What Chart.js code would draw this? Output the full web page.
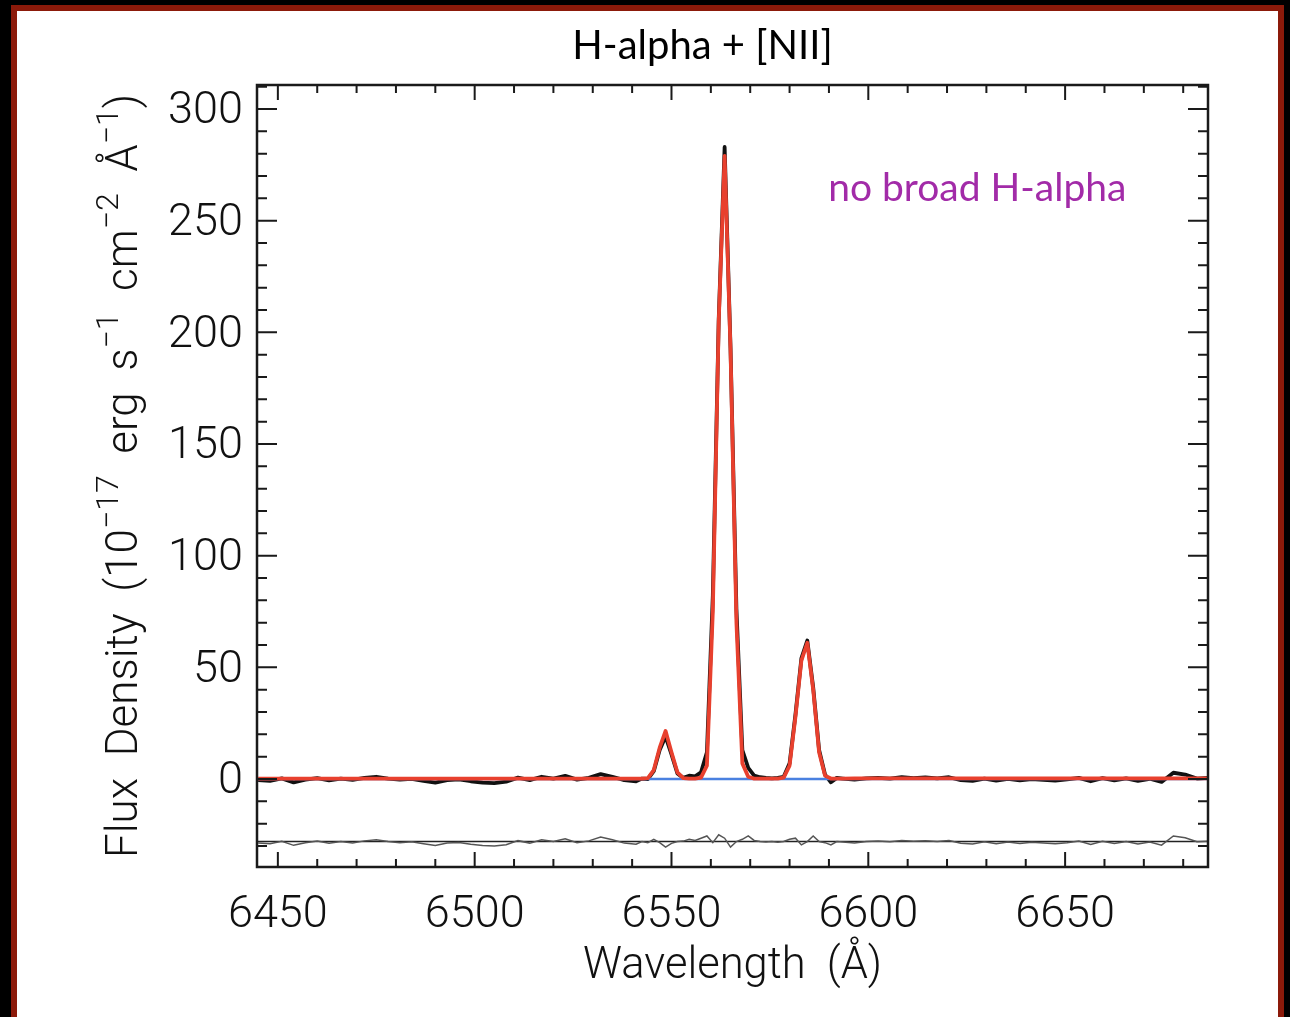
<!DOCTYPE html>
<html><head><meta charset="utf-8">
<script src="https://cdn.jsdelivr.net/npm/chart.js@4.4.1/dist/chart.umd.min.js"></script>
<style>
html,body{margin:0;padding:0;background:#000;width:1290px;height:1017px;overflow:hidden;}
#frame{position:absolute;left:11px;top:5px;width:1261px;height:1100px;background:#fff;border:6px solid #8c1a0a;}
#c{position:absolute;left:0;top:0;}
</style></head><body>
<div id="frame"></div>
<canvas id="c" width="1290" height="1017"></canvas>
<script>
// Wavelength grid (Angstrom)
const wavelength = [
 6445,6448,6451,6454,6457,6460,6463,6466,6469,6472,6475,6478,6481,6484,6487,6490,6493,6496,6499,6502,6505,6508,6511,6514,6517,6520,6523,6526,6529,6532,6535,6538,6541,
 6542.5,6544,6545.5,6547,6548.5,6550,6551.5,6553,6554.5,6556,6557.5,6559,6560.5,6562,6563.5,6565,6566.5,6568,6569.5,6571,6572.5,6574,6575.5,6577,6578.5,6580,6581.5,6583,6584.5,6586,6587.5,6589,6590.5,6592,6593.5,
 6596.5,6599.5,6602.5,6605.5,6608.5,6611.5,6614.5,6617.5,6620.5,6623.5,6626.5,6629.5,6632.5,6635.5,6638.5,6641.5,6644.5,6647.5,6650.5,6653.5,6656.5,6659.5,6662.5,6665.5,6668.5,6671.5,6674.5,6677.5,6680.5,6683.5,6686.5
];
// Observed flux density (black)
const fluxData = [
 -0.5,-0.8,0.3,-1.5,-0.3,0.4,-0.6,0.2,-0.4,0.5,1.0,0.2,-0.3,0.1,-0.8,-1.6,-0.5,-0.2,-1.0,-1.6,-1.8,-1.2,0.6,-0.5,1.0,0.2,1.4,-0.3,0.5,2.2,1.0,-0.5,-1.0,
 0.2,0.0,3.5,13,19,11,2.5,0.5,1.5,1.2,3,12,82,206,283,193,76,13,5,1.5,0.8,0.5,0.3,0.5,1,7,29,54,62,41,13,2,-1.5,0.5,0.2,
 -0.3,0.3,0.5,0.2,0.8,0.4,0.7,0.3,0.8,-0.5,-0.8,0.2,-0.7,0.1,-0.6,0.0,-0.4,-0.7,-0.2,0.5,-1.0,0.4,-0.6,0.3,-0.8,0.1,-1.3,2.8,2.0,0.2,0.5
];
// Model fit (red)
const fluxModel = [
 0.2,0.2,0.2,0.2,0.2,0.2,0.2,0.2,0.2,0.2,0.2,0.2,0.2,0.2,0.2,0.2,0.2,0.2,0.2,0.2,0.2,0.2,0.2,0.2,0.2,0.2,0.2,0.2,0.2,0.2,0.2,0.2,0.2,
 0.2,0.4,4,14,21.5,12,3,0.4,0.2,0.2,0.6,6,75,205,279,192,70,7,1,0.2,0.2,0.2,0.2,0.2,0.6,6,28,53,61,40,12,1.5,0.2,0.2,0.2,
 0.3,0.3,0.3,0.3,0.3,0.3,0.3,0.3,0.3,0.3,0.3,0.3,0.3,0.3,0.3,0.3,0.3,0.3,0.3,0.3,0.3,0.3,0.3,0.3,0.3,0.3,0.3,0.3,0.3,0.3,0.3
];
// Residuals, shown offset below the spectrum
const residual = [
 -28.7,-29.0,-27.9,-29.7,-28.5,-27.8,-28.8,-28.0,-28.6,-27.7,-27.2,-28.0,-28.5,-28.1,-29.0,-29.8,-28.7,-28.4,-29.2,-29.8,-30.0,-29.4,-27.6,-28.7,-27.2,-28.0,-26.8,-28.5,-27.7,-26.0,-27.2,-28.7,-29.2,
 -28.0,-28.5,-27.0,-28.5,-30.5,-28.8,-28.0,-27.8,-27.0,-27.5,-26.5,-25.5,-28.5,-25.0,-26.5,-30.5,-28.0,-27.0,-25.5,-27.5,-28.0,-28.2,-28.0,-28.3,-28.0,-27.0,-26.5,-29.5,-28.0,-25.5,-28.0,-28.5,-29.5,-28.0,-28.2,
 -28.6,-28.0,-27.8,-28.1,-27.5,-27.9,-27.6,-28.0,-27.5,-28.8,-29.1,-28.1,-29.0,-28.2,-28.9,-28.3,-28.7,-29.0,-28.5,-27.8,-29.3,-27.9,-28.9,-28.0,-29.1,-28.2,-29.6,-25.5,-26.3,-28.1,-27.8
];
// Continuum (blue) and residual zero level
const contWavelength = [6444.7, 6686.3];
const contFlux = [0, 0];
const residZero = [-28, -28];
// Tick labels
const xTickValues = [6450, 6500, 6550, 6600, 6650];
const yTickValues = [0, 50, 100, 150, 200, 250, 300];

const chartTitle = 'H-alpha + [NII]';
const xTitle = 'Wavelength  (Å)';
const yTitleParts = [['Flux  Density  (10',0],['\u221217',1],['  erg  s',0],['\u22121',1],['  cm',0],['\u22122',1],['  Å',0],['\u22121',1],[')',0]];
const annotationText = 'no broad H-alpha';

const pts = (xs, ys) => xs.map((x, i) => ({x: x, y: ys[i]}));

const AX_FONT = 'Roboto';
const frameTicks = {
  id: 'frameTicks',
  afterDatasetsDraw(chart) {
    const {ctx, chartArea: a, scales: {x, y}} = chart;
    ctx.save();
    ctx.strokeStyle = '#1a1a1a';
    ctx.lineWidth = 2;
    ctx.beginPath();
    for (let v = 6450; v <= x.max; v += 10) {
      const px = x.getPixelForValue(v);
      const L = (v % 50 === 0) ? 15 : 8;
      ctx.moveTo(px, a.bottom); ctx.lineTo(px, a.bottom - L);
      ctx.moveTo(px, a.top); ctx.lineTo(px, a.top + L);
    }
    for (let v = -30; v <= y.max; v += 10) {
      const py = y.getPixelForValue(v);
      const L = (v % 50 === 0) ? 20 : 10;
      ctx.moveTo(a.left, py); ctx.lineTo(a.left + L, py);
      ctx.moveTo(a.right, py); ctx.lineTo(a.right - L, py);
    }
    ctx.stroke();
    ctx.lineWidth = 2.5;
    ctx.strokeRect(a.left, a.top, a.right - a.left, a.bottom - a.top);
    // annotation
    ctx.fillStyle = '#a22ba8';
    ctx.font = '39px Lato';
    ctx.textAlign = 'left';
    ctx.textBaseline = 'alphabetic';
    ctx.fillText(annotationText, x.getPixelForValue(6589.8), y.getPixelForValue(258.8));
    ctx.restore();
  },
  afterDraw(chart) {
    const {ctx, chartArea: a} = chart;
    ctx.save();
    ctx.translate(a.left - 131, (a.top + a.bottom) / 2);
    ctx.rotate(-Math.PI / 2);
    ctx.fillStyle = '#111';
    ctx.textBaseline = 'middle';
    ctx.textAlign = 'left';
    const fMain = '300 44px ' + AX_FONT, fSup = '300 32px ' + AX_FONT;
    let total = 0;
    for (const [t, s] of yTitleParts) { ctx.font = s ? fSup : fMain; total += ctx.measureText(t).width; }
    let cx = -total / 2;
    for (const [t, s] of yTitleParts) {
      ctx.font = s ? fSup : fMain;
      ctx.fillText(t, cx, s ? -16 : 0);
      cx += ctx.measureText(t).width;
    }
    ctx.restore();
  }
};

const tickFont = {family: AX_FONT, size: 45, weight: 300};
const titleFont = {family: AX_FONT, size: 43.5, weight: 300};

new Chart(document.getElementById('c'), {
  type: 'line',
  data: {
    datasets: [
      {label: 'model', data: pts(wavelength, fluxModel), borderColor: '#e8402e', borderWidth: 3.8, pointRadius: 0, tension: 0, borderJoinStyle: 'round'},
      {label: 'continuum', data: pts(contWavelength, contFlux), borderColor: '#4a80e0', borderWidth: 2.5, pointRadius: 0},
      {label: 'data', data: pts(wavelength, fluxData), borderColor: '#111', borderWidth: 3.8, pointRadius: 0, tension: 0, borderJoinStyle: 'round'},
      {label: 'residual', data: pts(wavelength, residual), borderColor: '#555', borderWidth: 1.5, pointRadius: 0, tension: 0},
      {label: 'zero', data: pts(contWavelength, residZero), borderColor: '#222', borderWidth: 1.5, pointRadius: 0}
    ]
  },
  options: {
    responsive: false,
    animation: false,
    layout: {padding: {left: 115, right: 0, top: 0, bottom: 0}},
    plugins: {
      legend: {display: false},
      tooltip: {enabled: false},
      title: {display: true, text: chartTitle, color: '#000', font: {family: 'Lato', size: 40, weight: 'normal'}, padding: {top: 22, bottom: 15}}
    },
    scales: {
      x: {
        type: 'linear', min: 6444.7, max: 6686.3,
        grid: {display: false, drawTicks: false}, border: {display: false},
        afterBuildTicks: s => { s.ticks = xTickValues.map(v => ({value: v})); },
        afterFit: s => { s.height = 150; },
        ticks: {color: '#111', font: tickFont, padding: 22, maxRotation: 0, autoSkip: false, callback: v => String(v)},
        title: {display: true, text: xTitle, color: '#111', font: titleFont, padding: {top: 0, bottom: 24}}
      },
      y: {
        type: 'linear', min: -39.4, max: 310.75,
        grid: {display: false, drawTicks: false}, border: {display: false},
        afterBuildTicks: s => { s.ticks = yTickValues.map(v => ({value: v})); },
        afterFit: s => { s.width = 142; },
        ticks: {color: '#111', font: tickFont, padding: 14, labelOffset: 3, autoSkip: false, callback: v => String(v)}
      },
      y2: {
        type: 'linear', position: 'right', min: -39.4, max: 310.75,
        grid: {display: false, drawTicks: false}, border: {display: false},
        ticks: {display: false},
        afterFit: s => { s.width = 82; }
      }
    }
  },
  plugins: [frameTicks]
});
</script>
</body></html>
